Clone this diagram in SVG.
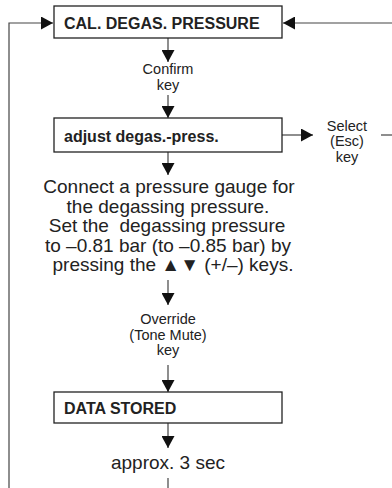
<svg xmlns="http://www.w3.org/2000/svg" width="392" height="488" viewBox="0 0 392 488">
<defs>
<style>
.box{fill:#fff;stroke:#222;stroke-width:1.3}
.ln{fill:none;stroke:#444;stroke-width:1.2}
.bt{font-family:"Liberation Sans",Arial,sans-serif;font-weight:bold;font-size:16px;fill:#222}
.lb{font-family:"Liberation Sans",Arial,sans-serif;font-size:14.5px;fill:#222;text-anchor:middle}
.mt{font-family:"Liberation Sans",Arial,sans-serif;font-size:19px;fill:#222;text-anchor:middle}
</style>
<marker id="ah" viewBox="0 0 12 13" refX="12" refY="6.5" markerWidth="12" markerHeight="13" markerUnits="userSpaceOnUse" orient="auto">
<path d="M0,0 L12,6.5 L0,13 Z" fill="#111"/>
</marker>
</defs>
<g id="connectors">
<path class="ln" d="M9,488 V23 H53" marker-end="url(#ah)"/>
<path class="ln" d="M392,23 H283" marker-end="url(#ah)"/>
<path class="ln" d="M168,38 V62" marker-end="url(#ah)"/>
<path class="ln" d="M168,95 V118" marker-end="url(#ah)"/>
<path class="ln" d="M282,135 H313" marker-end="url(#ah)"/>
<path class="ln" d="M381,135 H392"/>
<path class="ln" d="M168,152 V175" marker-end="url(#ah)"/>
<path class="ln" d="M168,280 V305" marker-end="url(#ah)"/>
<path class="ln" d="M168,365 V392" marker-end="url(#ah)"/>
<path class="ln" d="M168,423 V448" marker-end="url(#ah)"/>
<path class="ln" d="M168,478 V488"/>
</g>
<g id="cal">
<rect class="box" x="54" y="6" width="228" height="32"/>
<text class="bt" x="64" y="29">CAL. DEGAS. PRESSURE</text>
</g>
<g id="confirm">
<text class="lb" x="168" y="74">Confirm</text>
<text class="lb" x="168" y="90">key</text>
</g>
<g id="adjust">
<rect class="box" x="54" y="118" width="228" height="34"/>
<text class="bt" x="64" y="142">adjust degas.-press.</text>
</g>
<g id="select">
<text class="lb" x="347" y="131">Select</text>
<text class="lb" x="347" y="146">(Esc)</text>
<text class="lb" x="347" y="162">key</text>
</g>
<g id="instruction">
<text class="mt" x="169" y="193">Connect a pressure gauge for</text>
<text class="mt" x="168" y="213">the degassing pressure.</text>
<text class="mt" x="167" y="232" xml:space="preserve">Set the  degassing pressure</text>
<text class="mt" x="168" y="252">to –0.81 bar (to –0.85 bar) by</text>
<text class="mt" x="173" y="271">pressing the ▲▼ (+/–) keys.</text>
</g>
<g id="override">
<text class="lb" x="168" y="324">Override</text>
<text class="lb" x="168" y="340">(Tone Mute)</text>
<text class="lb" x="168" y="355">key</text>
</g>
<g id="stored">
<rect class="box" x="54" y="392" width="228" height="31"/>
<text class="bt" x="64" y="414">DATA STORED</text>
</g>
<g id="approx">
<text class="mt" x="168" y="469">approx. 3 sec</text>
</g>
</svg>
